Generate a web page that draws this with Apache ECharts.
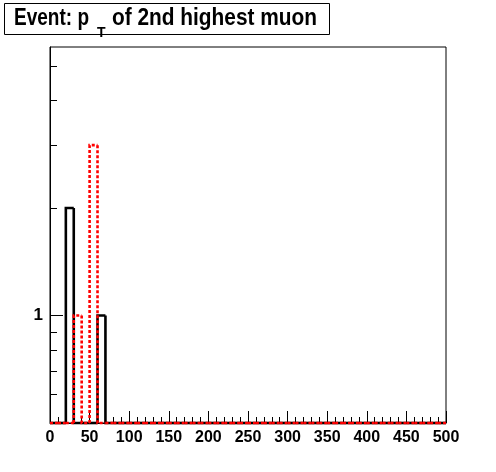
<!DOCTYPE html>
<html>
<head>
<meta charset="utf-8">
<script src="https://cdn.jsdelivr.net/npm/echarts@6/dist/echarts.min.js"></script>
<style>
html,body{margin:0;padding:0;background:#fff;}
#chart{width:496px;height:472px;}
</style>
</head>
<body>
<div id="chart"></div>
<script>
// Histogram bins (lower edges), width 10 GeV
const binLow = [0,10,20,30,40,50,60,70,80,90,100,110,120,130,140,150,160,170,180,190,
  200,210,220,230,240,250,260,270,280,290,300,310,320,330,340,350,360,370,380,390,
  400,410,420,430,440,450,460,470,480,490];
const binWidth = 10;
// Black solid histogram
const blackCounts = [0,0,2,0,0,0,1,0,0,0,0,0,0,0,0,0,0,0,0,0,
  0,0,0,0,0,0,0,0,0,0,0,0,0,0,0,0,0,0,0,0,0,0,0,0,0,0,0,0,0,0];
// Red dashed histogram
const redCounts = [0,0,0,1,0,3,0,0,0,0,0,0,0,0,0,0,0,0,0,0,
  0,0,0,0,0,0,0,0,0,0,0,0,0,0,0,0,0,0,0,0,0,0,0,0,0,0,0,0,0,0];
const xTicks = [0,50,100,150,200,250,300,350,400,450,500];
const yMinorTicks = [0.6,0.7,0.8,0.9,2,3,4,5];
const yMajorTicks = [1];
const YMIN = 0.5, YMAX = 5.65;
const titleMain = 'Event: p';
const titleSub = 'T';
const titleRest = 'of 2nd highest muon';

const FONT = '"Liberation Sans", Arial, Helvetica, sans-serif';
function clampV(v){ return v > 0 ? v : YMIN; }

const mctx = document.createElement('canvas').getContext('2d');
function measure(t, font){ mctx.font = font; return mctx.measureText(t).width; }
const F1 = 'bold 24px ' + FONT;
const F2 = 'bold 14px ' + FONT;
const w1 = measure(titleMain, F1);
const s1 = 75 / w1;
const w3 = measure(titleRest, F1);
const s3 = 205 / w3;
const x1 = 14;
const xT = x1 + w1 * s1 + 8;
const x3 = 112;

function makeHist(vals, color, dash, width, z){
  return {
    type:'custom',
    coordinateSystem:'cartesian2d',
    xAxisIndex:0, yAxisIndex:0,
    z:z,
    silent:true,
    clip:false,
    encode:{x:[0,1], y:2},
    data: vals.map((v,i)=>[binLow[i], binLow[i]+binWidth, v]),
    renderItem(params, api){
      const i = params.dataIndex;
      const lo = binLow[i], hi = binLow[i]+binWidth;
      const v = clampV(vals[i]);
      const prev = i>0 ? clampV(vals[i-1]) : YMIN;
      const pts = [api.coord([lo, prev]), api.coord([lo, v]), api.coord([hi, v])];
      if (i === vals.length-1) pts.push(api.coord([hi, YMIN]));
      return {type:'polyline', shape:{points:pts},
        style:{fill:null, stroke:color, lineWidth:width, lineDash:dash, lineCap:'butt', lineJoin:'miter'}};
    }
  };
}

const chart = echarts.init(document.getElementById('chart'), null, {renderer:'canvas'});
chart.setOption({
  animation:false,
  backgroundColor:'#fff',
  grid:{left:50, right:50, top:47, bottom:49, show:true, borderColor:'#000', borderWidth:1, backgroundColor:'transparent'},
  xAxis:{
    type:'value', min:0, max:500, interval:50,
    axisLine:{show:true, lineStyle:{color:'#000', width:1}},
    axisTick:{show:true, inside:true, length:12, lineStyle:{color:'#000', width:1}},
    minorTick:{show:true, splitNumber:5, length:6, lineStyle:{color:'#000', width:1}},
    splitLine:{show:false}, minorSplitLine:{show:false},
    axisLabel:{show:true, margin:7, color:'#000', fontFamily:FONT, fontWeight:'bold', fontSize:16,
      customValues:xTicks}
  },
  yAxis:[{
    type:'log', logBase:10, min:YMIN, max:YMAX,
    axisLine:{show:true, lineStyle:{color:'#000', width:1}},
    axisTick:{show:true, inside:true, length:7, customValues:yMinorTicks, lineStyle:{color:'#000', width:1}},
    axisLabel:{show:false},
    splitLine:{show:false}
  },{
    type:'log', logBase:10, min:YMIN, max:YMAX, position:'left',
    axisLine:{show:false},
    axisTick:{show:true, inside:true, length:13, customValues:yMajorTicks, lineStyle:{color:'#000', width:1}},
    axisLabel:{show:true, margin:7, color:'#000', fontFamily:FONT, fontWeight:'bold', fontSize:17,
      customValues:yMajorTicks},
    splitLine:{show:false}
  }],
  series:[
    makeHist(blackCounts, '#000', null, 2.6, 2),
    makeHist(redCounts, '#ff0000', [3,2], 2.6, 3)
  ],
  graphic:[
    {type:'rect', shape:{x:4.5, y:3.5, width:325, height:31}, style:{fill:'#fff', stroke:'#000', lineWidth:1}, z:10},
    {type:'text', x:x1, y:18.3, scaleX:s1, z:11, style:{text:titleMain, font:F1, fill:'#000', verticalAlign:'middle', align:'left'}},
    {type:'text', x:xT, y:33, z:12, style:{text:titleSub, font:F2, fill:'#000', verticalAlign:'middle', align:'left'}},
    {type:'text', x:x3, y:18.3, scaleX:s3, z:11, style:{text:titleRest, font:F1, fill:'#000', verticalAlign:'middle', align:'left'}}
  ]
});
</script>
</body>
</html>
